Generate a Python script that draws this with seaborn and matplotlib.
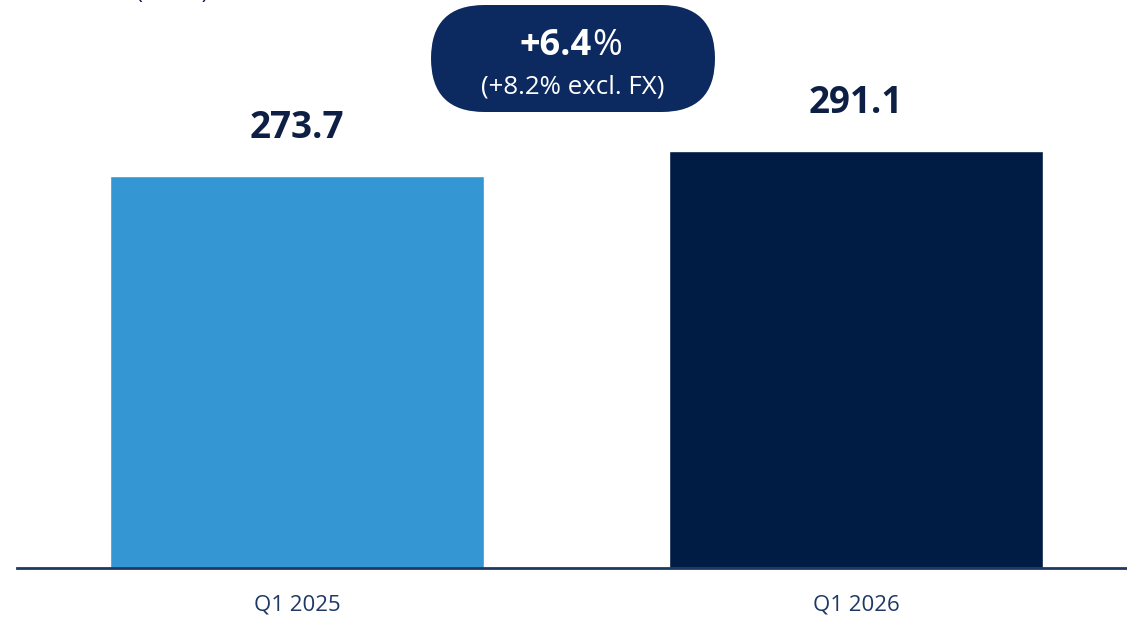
import matplotlib
matplotlib.use("Agg")
import matplotlib.pyplot as plt
import seaborn as sns
import pandas as pd
from matplotlib.patches import FancyBboxPatch

quarters = ["Q1 2025", "Q1 2026"]
values = [273.7, 291.1]
bar_colors = ["#3496D3", "#001B44"]
change_main = "+6.4"
change_sub = "(+8.2% excl. FX)"
unit_label = "Net sales (SEKm)"

navy = "#0E1F45"

sns.set_style("white")
plt.rcParams["font.family"] = ["Open Sans", "DejaVu Sans"]

df = pd.DataFrame({"quarter": quarters, "value": values})

fig = plt.figure(figsize=(11.27, 6.19), dpi=100)
ax = fig.add_axes([17 / 1127, 51 / 619, 1 - 17 / 1127, 1 - 51 / 619])

sns.barplot(data=df, x="quarter", y="value", hue="quarter", palette=bar_colors,
            width=0.669, legend=False, ax=ax, saturation=1)

ax.set_ylim(0, 396.5)
ax.set_xlim(-0.501, 1.485)
for s in ["top", "right", "left"]:
    ax.spines[s].set_visible(False)
ax.spines["bottom"].set_color("#1F3864")
ax.spines["bottom"].set_linewidth(2)
ax.set_yticks([])
ax.set_xlabel("")
ax.set_ylabel("")
ax.tick_params(axis="x", length=0, pad=19, labelsize=16, labelcolor="#1F3864")

for i, v in enumerate(values):
    ax.annotate(f"{v:.1f}", (i, v), xytext=(0, 21), textcoords="offset points",
                ha="center", va="bottom", fontsize=26.5, fontweight="bold", color=navy)

# growth badge
badge = FancyBboxPatch((4.31, 5.07), 2.84, 1.07,
                       boxstyle="round,pad=0,rounding_size=0.535",
                       transform=fig.dpi_scale_trans, facecolor="#0C2A5F",
                       edgecolor="none")
fig.patches.append(badge)
fig.text(5.92, 5.64, change_main, transform=fig.dpi_scale_trans, ha="right",
         va="baseline", fontsize=26, fontweight="bold", color="white")
fig.text(5.92, 5.64, "%", transform=fig.dpi_scale_trans, ha="left",
         va="baseline", fontsize=26, color="white")
fig.text(5.73, 5.25, change_sub, transform=fig.dpi_scale_trans, ha="center",
         va="baseline", fontsize=18.6, color="white")

# unit label, cut off at the top edge as in the source slide
fig.text(0.36, 6.20, unit_label, transform=fig.dpi_scale_trans, ha="left",
         va="baseline", fontsize=16, color=navy)

fig.savefig("out.png", dpi=100)
